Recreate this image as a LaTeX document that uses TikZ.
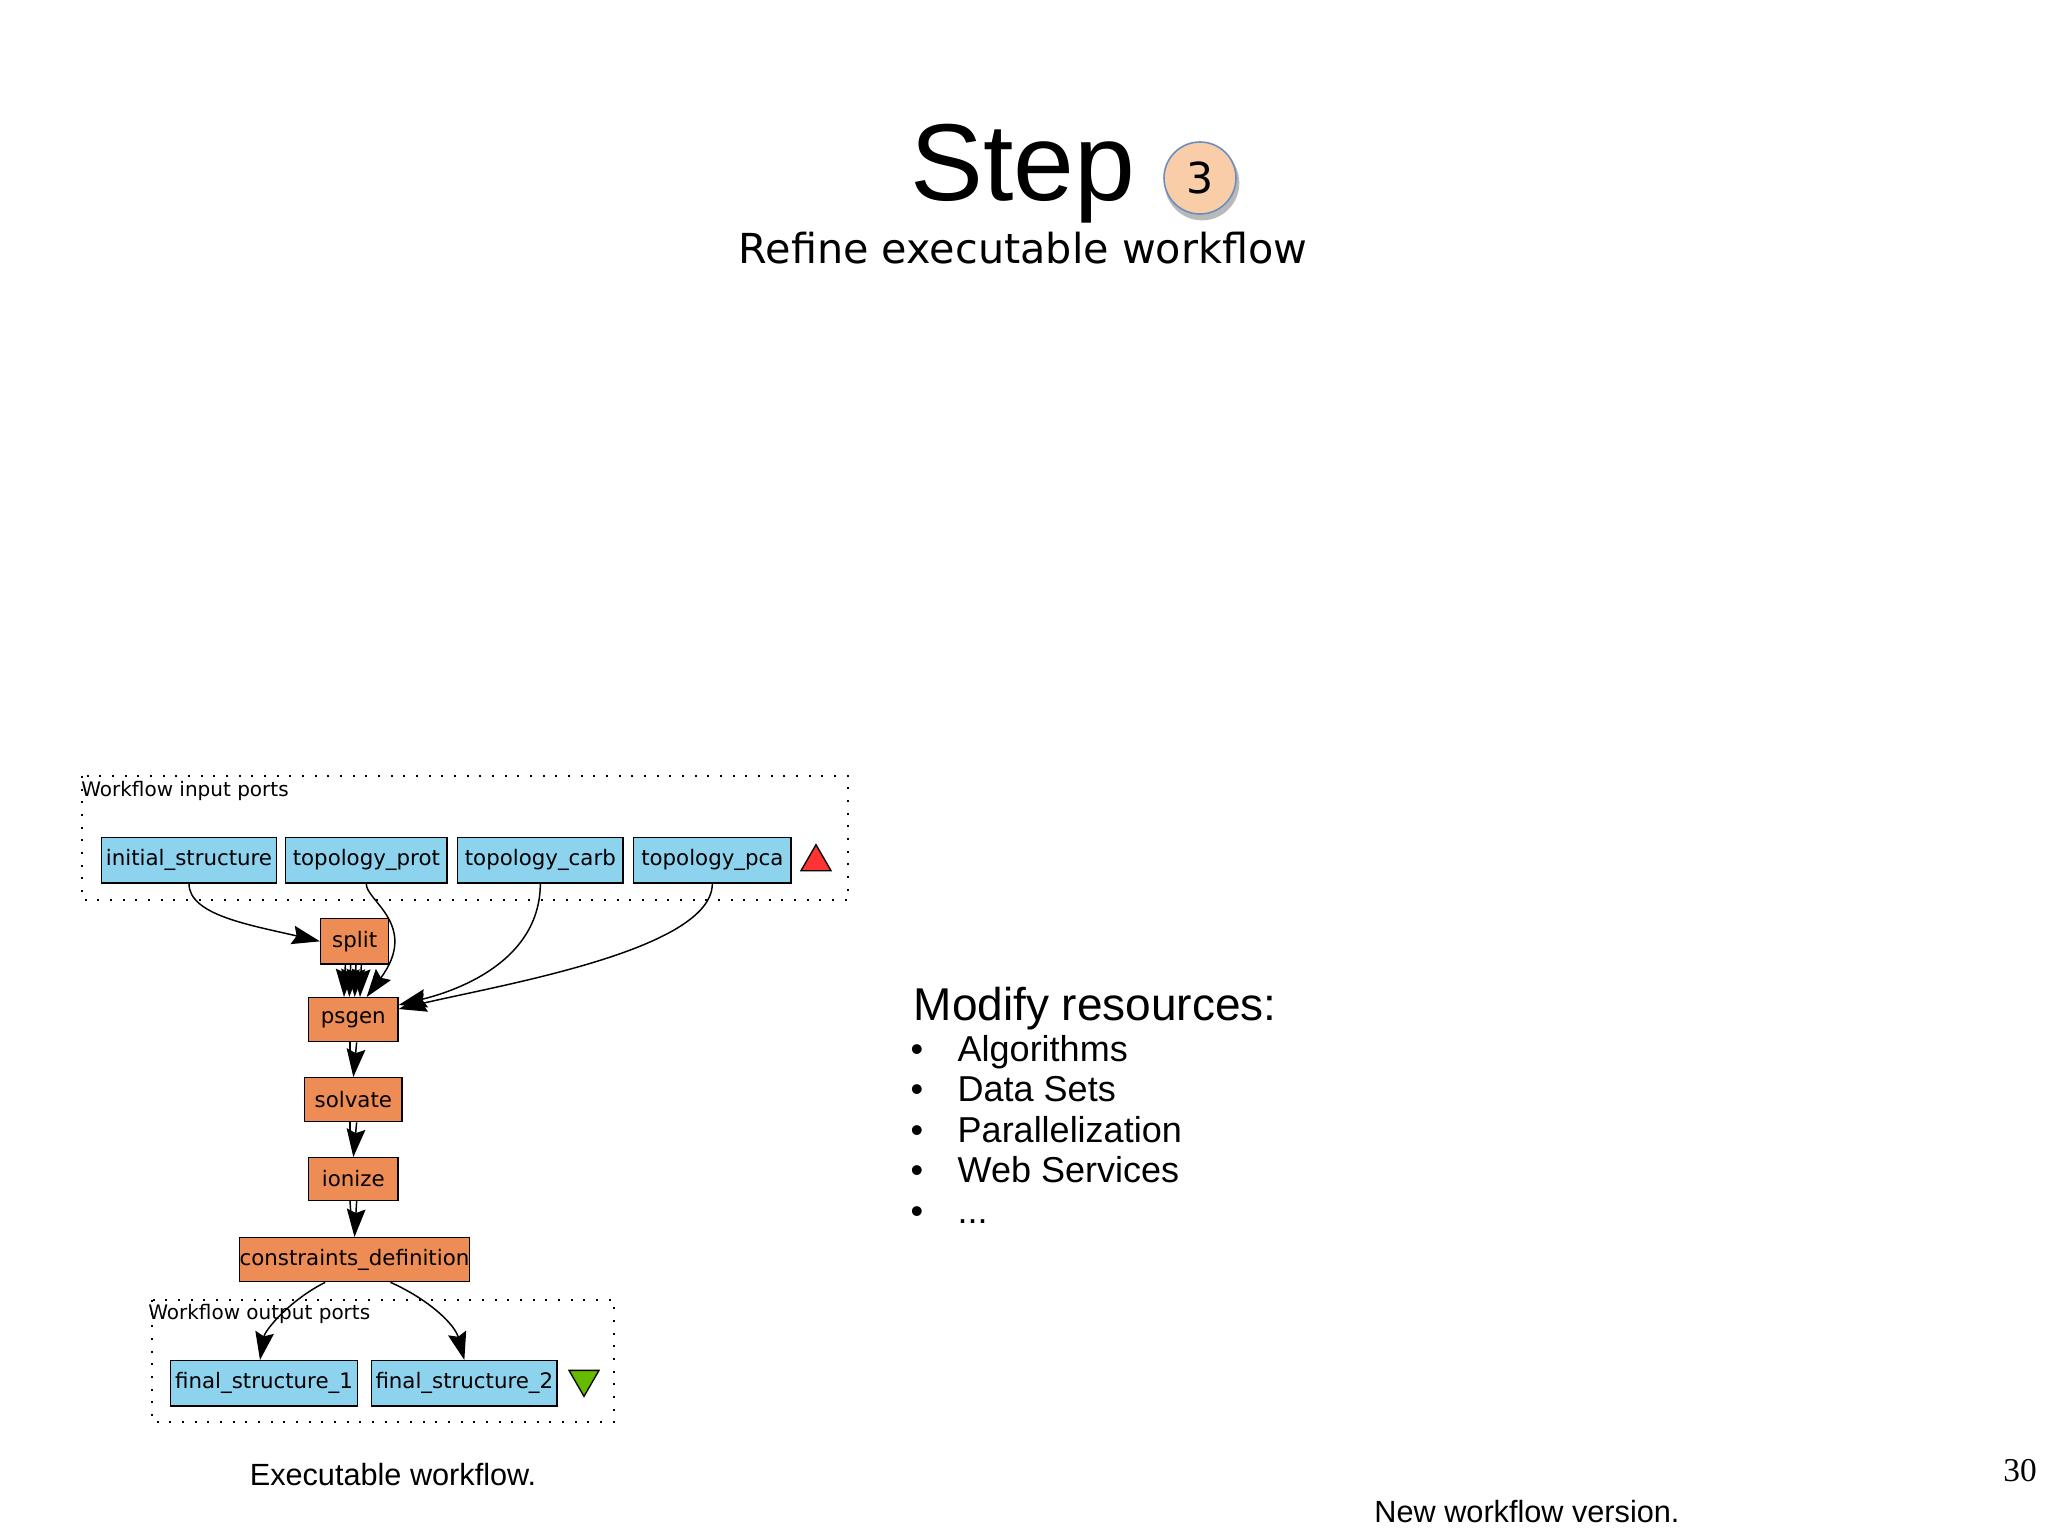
\documentclass[tikz,border=0pt]{standalone}
\usepackage{fontspec}
\setmainfont{Liberation Sans}
\newfontfamily\dv{DejaVu Sans}
\newfontfamily\lser{Liberation Serif}
\usetikzlibrary{arrows.meta,shapes.geometric}
\definecolor{portblue}{HTML}{8DD3EE}
\definecolor{procor}{HTML}{EE8C55}
\definecolor{circfill}{HTML}{F8CDA8}
\definecolor{circedge}{HTML}{6C8EBF}
\definecolor{gr}{HTML}{66BB00}
\begin{document}
\begin{tikzpicture}[x=0.75pt,y=-0.75pt,
  box/.style={draw=black,line width=1pt,inner sep=0pt,anchor=north west,font=\dv\fontsize{16}{17}\selectfont},
  port/.style={box,fill=portblue},
  proc/.style={box,fill=procor},
  ar/.style={-{Stealth[length=21pt,width=14pt,inset=3pt]},line width=1.1pt},
  dbl/.style={line width=1.1pt},
  dots/.style={line width=1.6pt,dash pattern=on 1.5pt off 8pt},
  btxt/.style={anchor=base west,font=\fontsize{27}{30}\selectfont},
  bul/.style={anchor=base,font=\fontsize{27}{30}\selectfont}]
\useasboundingbox (0,0) rectangle (2048,1535);
% title
\node[font=\fontsize{82}{90}\selectfont,anchor=base] (step) at (1023,200) {Step};
\fill[gray!55] (1202,183) circle[radius=28pt];
\node[circle,draw=circedge,line width=1.2pt,fill=circfill,minimum size=54pt,inner sep=0pt,font=\dv\fontsize{32}{34}\selectfont] (three) at (1200,178) {3};
\node[font=\dv\fontsize{31}{34}\selectfont,anchor=base] (sub) at (1023,263) {Refine executable workflow};
% input ports box
\draw[dots] (82,776) rectangle (848,900);
\node[anchor=west,font=\dv\fontsize{15}{16}\selectfont,inner sep=0pt] (inlab) at (81,791) {Workflow input ports};
\node[port,minimum width=131pt,minimum height=34pt] (is) at (101,837) {initial\_structure};
\node[port,minimum width=121pt,minimum height=34pt] (tp) at (285,837) {topology\_prot};
\node[port,minimum width=124pt,minimum height=34pt] (tc) at (457,837) {topology\_carb};
\node[port,minimum width=118pt,minimum height=34pt] (tpca) at (633,837) {topology\_pca};
\node[regular polygon,regular polygon sides=3,draw=black,line width=1pt,fill=red!80!white,minimum size=26pt,inner sep=0pt] (tri) at (816,862) {};
% processors
\node[proc,minimum width=51pt,minimum height=34pt] (split) at (320,918) {split};
\node[proc,minimum width=67pt,minimum height=33pt] (psgen) at (308,997) {psgen};
\node[proc,minimum width=73pt,minimum height=33pt] (solv) at (304,1077) {solvate};
\node[proc,minimum width=67pt,minimum height=32pt] (ion) at (308,1157) {ionize};
\node[proc,minimum width=172pt,minimum height=33pt] (cons) at (239,1237) {constraints\_definition};
% output box
\draw[dots] (152,1300) rectangle (614,1422);
\node[anchor=west,font=\dv\fontsize{15}{16}\selectfont,inner sep=0pt] (outlab) at (148,1314) {Workflow output ports};
\node[port,minimum width=140pt,minimum height=34pt] (f1) at (170,1360) {final\_structure\_1};
\node[port,minimum width=139pt,minimum height=34pt] (f2) at (371,1360) {final\_structure\_2};
\node[regular polygon,regular polygon sides=3,shape border rotate=180,draw=black,line width=1pt,fill=gr,minimum size=26pt,inner sep=0pt] (gtri) at (584,1379) {};
% edges
\draw[ar] (is.south) .. controls (189,915) and (250,925) .. (split.west);
\draw[ar] (tp.south) .. controls (365,900) and (420,925) .. ([xshift=10pt]psgen.north);
\draw[ar] ([xshift=-7pt]split.south) -- ([xshift=-7pt]psgen.north);
\draw[ar] ([xshift=-3pt]split.south) -- ([xshift=-3pt]psgen.north);
\draw[ar] ([xshift=1pt]split.south) -- ([xshift=1pt]psgen.north);
\draw[ar] ([xshift=5pt]split.south) -- ([xshift=5pt]psgen.north);
\draw[ar] (tc.south) .. controls (540,960) and (460,990) .. ([yshift=-6pt]psgen.north east);
\draw[ar] (tpca.south) .. controls (712,950) and (500,985) .. ([yshift=-9pt]psgen.north east);
\draw[dbl] ([xshift=-2.5pt]psgen.south) -- ([xshift=-2.5pt,yshift=14pt]solv.north);
\draw[ar] ([xshift=2.5pt]psgen.south) -- ([xshift=0pt]solv.north);
\draw[dbl] ([xshift=-2.5pt]solv.south) -- ([xshift=-2.5pt,yshift=14pt]ion.north);
\draw[ar] ([xshift=2.5pt]solv.south) -- ([xshift=0pt]ion.north);
\draw[dbl] ([xshift=-2.5pt]ion.south) -- ([xshift=-2.5pt,yshift=14pt]cons.north);
\draw[ar] ([xshift=2.5pt]ion.south) -- ([xshift=0pt]cons.north);
\draw[ar] ([xshift=-22pt]cons.south) .. controls (290,1300) and (265,1330) .. ([xshift=-3pt]f1.north);
\draw[ar] ([xshift=27pt]cons.south) .. controls (430,1300) and (455,1325) .. ([xshift=0pt]f2.north);
% right text
\node[anchor=base west,font=\fontsize{34.5}{38}\selectfont] (mod) at (909,1020) {Modify resources:};
\node[btxt] (b1) at (953,1061) {Algorithms};
\node[btxt] (b2) at (953,1101) {Data Sets};
\node[btxt] (b3) at (953,1142) {Parallelization};
\node[btxt] (b4) at (953,1182) {Web Services};
\node[btxt] (b5) at (953,1223) {...};
\node[bul] (bb1) at (917,1061) {\textbullet};
\node[bul] (bb2) at (917,1101) {\textbullet};
\node[bul] (bb3) at (917,1142) {\textbullet};
\node[bul] (bb4) at (917,1182) {\textbullet};
\node[bul] (bb5) at (917,1223) {\textbullet};
\node[font=\fontsize{23}{26}\selectfont] (exe) at (393,1475) {Executable workflow.};
\node[font=\fontsize{23}{26}\selectfont] (nwv) at (1527,1512) {New workflow version.};
\node[font=\lser\fontsize{25}{27}\selectfont] (pg) at (2020,1471) {30};
\end{tikzpicture}
\end{document}
